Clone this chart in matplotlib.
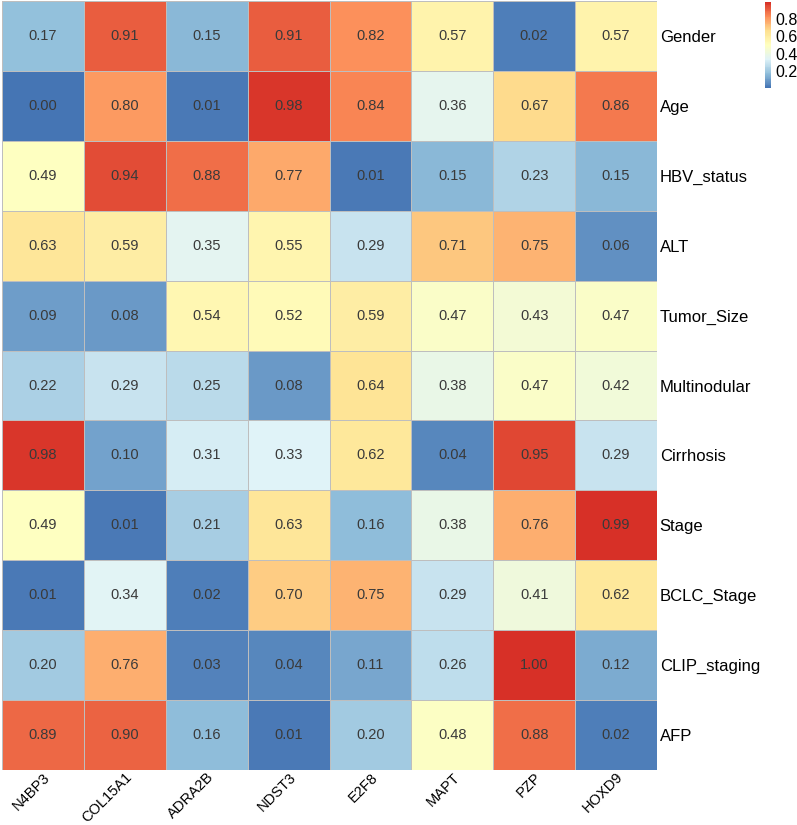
import matplotlib.pyplot as plt
import numpy as np
from matplotlib.colors import LinearSegmentedColormap
from matplotlib.transforms import ScaledTranslation

plt.rcParams['font.family'] = ['Liberation Sans', 'DejaVu Sans']

genes = ['N4BP3', 'COL15A1', 'ADRA2B', 'NDST3', 'E2F8', 'MAPT', 'PZP', 'HOXD9']
traits = ['Gender', 'Age', 'HBV_status', 'ALT', 'Tumor_Size', 'Multinodular',
          'Cirrhosis', 'Stage', 'BCLC_Stage', 'CLIP_staging', 'AFP']

gender = [0.17, 0.91, 0.15, 0.91, 0.82, 0.57, 0.02, 0.57]
age = [0.00, 0.80, 0.01, 0.98, 0.84, 0.36, 0.67, 0.86]
hbv = [0.49, 0.94, 0.88, 0.77, 0.01, 0.15, 0.23, 0.15]
alt = [0.63, 0.59, 0.35, 0.55, 0.29, 0.71, 0.75, 0.06]
tumor_size = [0.09, 0.08, 0.54, 0.52, 0.59, 0.47, 0.43, 0.47]
multinodular = [0.22, 0.29, 0.25, 0.08, 0.64, 0.38, 0.47, 0.42]
cirrhosis = [0.98, 0.10, 0.31, 0.33, 0.62, 0.04, 0.95, 0.29]
stage = [0.49, 0.01, 0.21, 0.63, 0.16, 0.38, 0.76, 0.99]
bclc = [0.01, 0.34, 0.02, 0.70, 0.75, 0.29, 0.41, 0.62]
clip = [0.20, 0.76, 0.03, 0.04, 0.11, 0.26, 1.00, 0.12]
afp = [0.89, 0.90, 0.16, 0.01, 0.20, 0.48, 0.88, 0.02]

vals = np.array([gender, age, hbv, alt, tumor_size, multinodular,
                 cirrhosis, stage, bclc, clip, afp])

# pheatmap-style palette (reversed RdYlBu, 7 colours)
cols = ['#4575B4', '#91BFDB', '#E0F3F8', '#FFFFBF', '#FEE090', '#FC8D59', '#D73027']
cmap = LinearSegmentedColormap.from_list('rdylbu7', cols, N=100)

fig = plt.figure(figsize=(7.97, 8.25), dpi=100)
ax = fig.add_axes([2 / 797, 1 - 770 / 825, 655 / 797, 769 / 825])

mesh = ax.pcolormesh(vals, cmap=cmap, vmin=0, vmax=1,
                     edgecolor='#BEBEBE', linewidth=0.6)
ax.set_xlim(0, len(genes))
ax.set_ylim(len(traits), 0)

for i in range(len(traits)):
    for j in range(len(genes)):
        ax.text(j + 0.5, i + 0.5, '%.2f' % vals[i, j], ha='center', va='center',
                fontsize=10.5, color='#3a3a3a')

for s in ax.spines.values():
    s.set_visible(False)
ax.tick_params(length=0)
ax.set_xticks(np.arange(len(genes)) + 0.5)
ax.set_xticklabels(genes, rotation=45, ha='right', va='top',
                   rotation_mode='anchor', fontsize=10.5)
shift = ScaledTranslation(9 / 100, 0, fig.dpi_scale_trans)
for lab in ax.get_xticklabels():
    lab.set_transform(lab.get_transform() + shift)
ax.yaxis.tick_right()
ax.set_yticks(np.arange(len(traits)) + 0.5)
ax.set_yticklabels(traits, fontsize=12)
ax.tick_params(axis='y', pad=2)
ax.tick_params(axis='x', pad=0)

cax = fig.add_axes([765 / 797, 1 - 88 / 825, 6 / 797, 86 / 825])
cb = fig.colorbar(mesh, cax=cax, ticks=[0.2, 0.4, 0.6, 0.8])
cb.outline.set_visible(False)
cax.tick_params(length=0, labelsize=11.5, pad=3)

fig.savefig('out.png', dpi=100)
